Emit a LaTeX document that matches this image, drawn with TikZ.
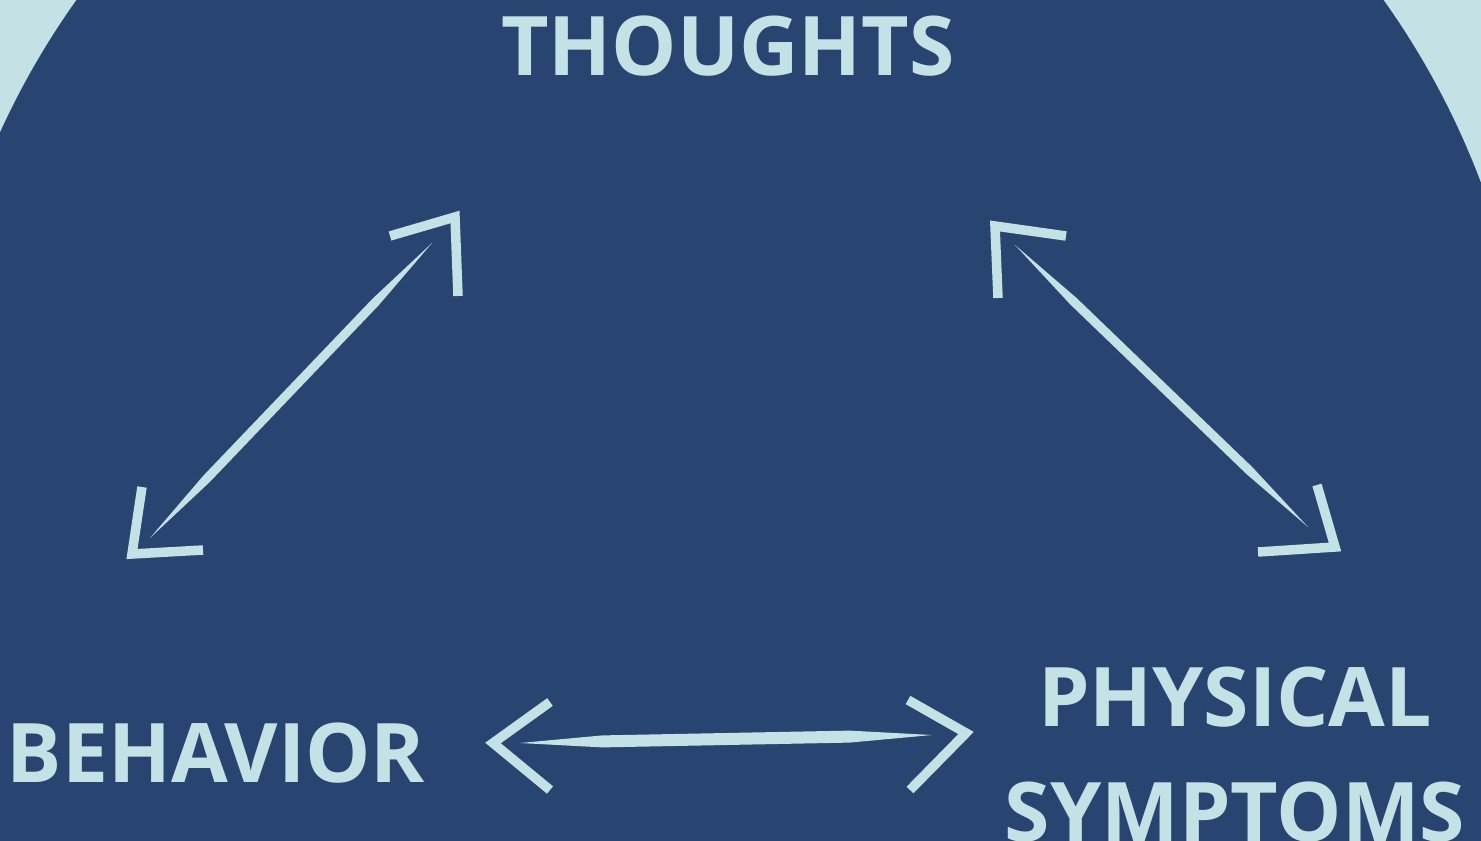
\documentclass[tikz,border=0pt]{standalone}
\usepackage{fontspec}
\setmainfont{Open Sans}
\usepackage{xcolor}
\usetikzlibrary{arrows.meta, positioning, calc}
\definecolor{navy}{HTML}{284572}
\definecolor{chalk}{HTML}{C4E1E6}
% tapered shaft between two named points
\newcommand{\shaft}[3][0.45mm]{\fill[chalk] (#2) -- ($(#2)!0.2!(#3)!#1!90:(#3)$) -- ($(#2)!0.8!(#3)!#1!90:(#3)$) -- (#3) -- ($(#2)!0.8!(#3)!#1!-90:(#3)$) -- ($(#2)!0.2!(#3)!#1!-90:(#3)$) -- cycle;}

\begin{document}
\begin{tikzpicture}[
    word/.style={text=chalk, font=\bfseries\fontsize{23.4}{27}\selectfont, inner sep=0pt, anchor=base},
    head/.style={draw=chalk, line width=0.95mm, line join=miter}]
    \useasboundingbox (0,0) rectangle (14.81,-8.40);
    \fill[chalk] (0,0) rectangle (14.81,-8.40);
    \begin{scope}
        \clip (0,0) rectangle (14.81,-8.40);
        \fill[navy] (7.30,-4.65) circle (8.02);
        \fill[navy] (-1,-4.65) rectangle (16,-9);
    \end{scope}

    % the three words
    \node[word] (thoughts) at (7.28,-0.75) {THOUGHTS};
    \node[word] (behavior) at (2.16,-7.82) {BEHAVIOR};
    \node[word] (physical) at (12.35,-7.26) {PHYSICAL};
    \node[word] (symptoms) at ($(physical.base)+(0,-1.15)$) {SYMPTOMS};

    % arrow ends
    \coordinate (tl) at (4.32,-2.43);
    \coordinate (bl) at (1.50,-5.38);
    \coordinate (tr) at (10.15,-2.45);
    \coordinate (br) at (13.08,-5.27);
    \coordinate (ml) at (5.20,-7.43);
    \coordinate (mr) at (9.32,-7.35);

    % shafts
    \shaft{bl}{tl}
    \shaft{tr}{br}
    \shaft[0.6mm]{ml}{mr}

    % open heads
    \draw[head] (3.90,-2.36) -- (4.55,-2.17) -- (4.58,-2.96);
    \draw[head] (1.42,-4.87) -- (1.32,-5.54) -- (2.03,-5.50);
    \draw[head] (10.66,-2.36) -- (9.95,-2.26) -- (9.98,-2.98);
    \draw[head] (13.17,-4.85) -- (13.35,-5.47) -- (12.58,-5.52);
    \draw[head] (5.50,-7.02) -- (4.93,-7.43) -- (5.50,-7.90);
    \draw[head] (9.08,-7.00) -- (9.66,-7.33) -- (9.10,-7.90);
\end{tikzpicture}
\end{document}
